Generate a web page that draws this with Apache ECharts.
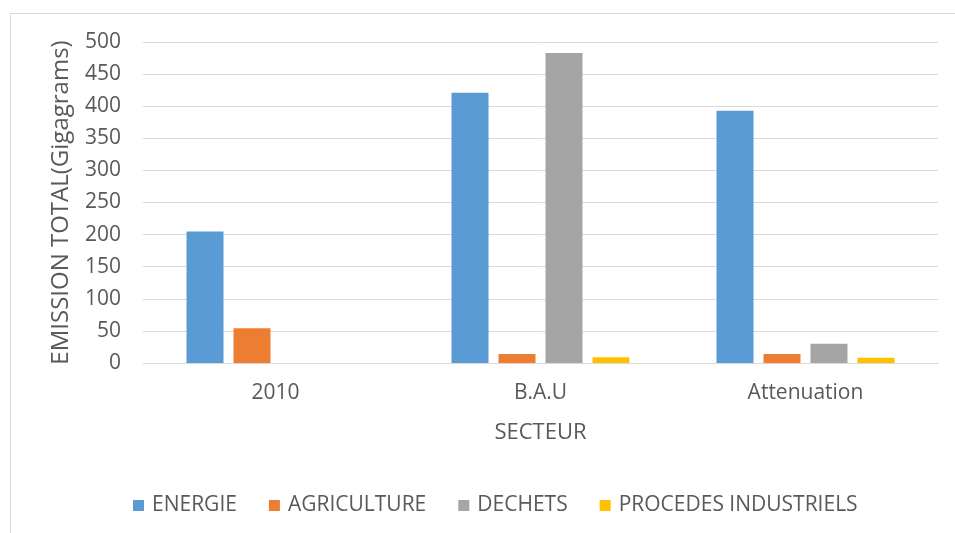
<!DOCTYPE html>
<html>
<head>
<meta charset="utf-8">
<script src="https://cdn.jsdelivr.net/npm/echarts@6/dist/echarts.min.js"></script>
<style>
    html, body { margin: 0; padding: 0; background: #fff; }
    #chart { width: 955px; height: 533px; position: relative; }
    #frame { position: absolute; left: 10px; top: 13px; width: 945px; height: 520px;
             border-top: 1px solid #d9d9d9; border-left: 1px solid #d9d9d9; pointer-events: none; }
</style>
</head>
<body>
<div style="position: relative;">
    <div id="chart"></div>
    <div id="frame"></div>
</div>
<script>
// data
var categories = ['2010', 'B.A.U', 'Attenuation'];
var energie = [205, 421, 393];
var agriculture = [54, 14, 14];
var dechets = [null, 483, 30];
var procedes = [null, 9, 8];
var seriesNames = ['ENERGIE', 'AGRICULTURE', 'DECHETS', 'PROCEDES INDUSTRIELS'];
var colors = ['#5b9bd5', '#ed7d31', '#a5a5a5', '#ffc000'];

var font = '"Open Sans", sans-serif';
var textColor = '#595959';

var myChart = echarts.init(document.getElementById('chart'));

function bar(name, values) {
    return {
        name: name,
        type: 'bar',
        barWidth: 37,
        barGap: '27%',
        data: values
    };
}

myChart.setOption({
    animation: false,
    color: colors,
    grid: {
        left: 143,
        right: 17,
        top: 42,
        bottom: 170
    },
    legend: {
        left: 128,
        top: 490,
        itemWidth: 11,
        itemHeight: 11,
        itemGap: 32,
        icon: 'rect',
        textStyle: { fontFamily: font, fontSize: 21, color: textColor, padding: [0, 0, 0, 3] },
        data: seriesNames
    },
    xAxis: [
        {
            type: 'category',
            data: categories,
            name: 'SECTEUR',
            nameLocation: 'middle',
            nameGap: 59,
            nameTextStyle: { fontFamily: font, fontSize: 22, color: textColor },
            axisLine: { lineStyle: { color: '#d9d9d9', width: 1 } },
            axisTick: { show: false },
            axisLabel: { fontFamily: font, fontSize: 21, color: textColor, margin: 20 }
        }
    ],
    yAxis: [
        {
            type: 'value',
            min: 0,
            max: 500,
            interval: 50,
            name: 'EMISSION TOTAL(Gigagrams)',
            nameLocation: 'middle',
            nameGap: 70,
            nameTextStyle: { fontFamily: font, fontSize: 24, color: textColor },
            axisLine: { show: false },
            axisTick: { show: false },
            splitLine: { lineStyle: { color: '#d9d9d9', width: 1 } },
            axisLabel: { fontFamily: font, fontSize: 21, color: textColor, margin: 22 }
        }
    ],
    series: [
        bar(seriesNames[0], energie),
        bar(seriesNames[1], agriculture),
        bar(seriesNames[2], dechets),
        bar(seriesNames[3], procedes)
    ]
});
</script>
</body>
</html>
